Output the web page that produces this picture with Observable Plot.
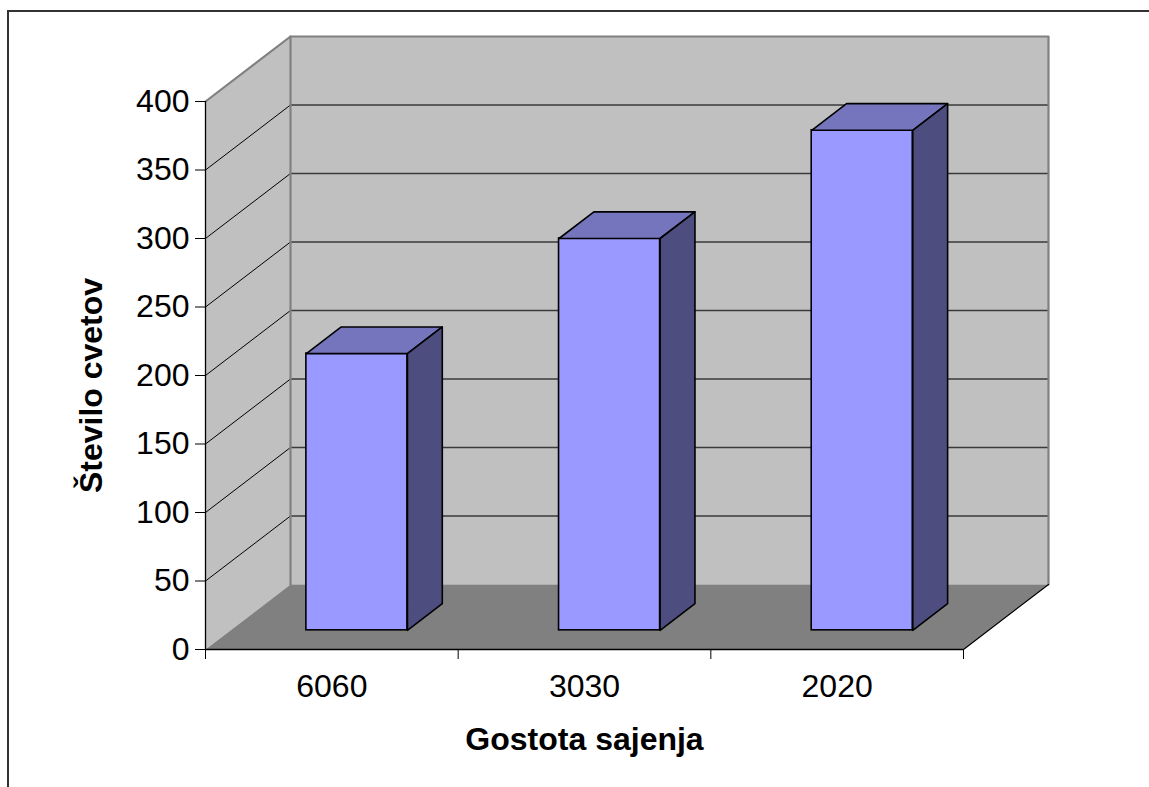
<!DOCTYPE html>
<html>
<head>
<meta charset="utf-8">
<script src="https://cdn.jsdelivr.net/npm/d3@7"></script>
<script src="https://cdn.jsdelivr.net/npm/@observablehq/plot@0.6"></script>
<style>
  html, body { margin: 0; padding: 0; background: #fff; overflow: hidden; }
  #wrap { position: relative; width: 1149px; height: 787px; }
  #border { position: absolute; left: 7px; top: 10px; right: -10px; bottom: -10px;
            border-top: 2px solid #333; border-left: 2px solid #333; }
  #chart { position: absolute; left: 0; top: 0; }
</style>
</head>
<body>
<div id="wrap"><div id="border"></div><div id="chart"></div></div>
<script>
// Planting density categories and flower counts
const categories = ["6060", "3030", "2020"];
const values = [202, 286, 365];
const yTicks = [0, 50, 100, 150, 200, 250, 300, 350, 400];

const W = 1149, H = 787;
const mL = 205, mR = 186, mT = 101, mB = 138;
const xDomain = [0, categories.length];
const yDomain = [0, 400];

// Oblique 3D projection: depth d in [0,1] shifts a point right and up (in pixels)
const depthX = 85, depthY = 65;
const kx = (xDomain[1] - xDomain[0]) / (W - mL - mR);
const ky = (yDomain[1] - yDomain[0]) / (H - mT - mB);
const P = (x, v, d) => ({x: x + d * depthX * kx, y: v + d * depthY * ky});
const path = (id, pts, close = false) =>
  (close ? [...pts, pts[0]] : pts).map(p => ({...p, id}));

const X0 = xDomain[0], X1 = xDomain[1], Y0 = yDomain[0], Y1 = yDomain[1];

// Walls and floor
const backWall = path("back", [P(X0, Y0, 1), P(X1, Y0, 1), P(X1, Y1, 1), P(X0, Y1, 1)], true);
const leftWall = path("left", [P(X0, Y0, 0), P(X0, Y0, 1), P(X0, Y1, 1), P(X0, Y1, 0)], true);
const floor = path("floor", [P(X0, Y0, 0), P(X1, Y0, 0), P(X1, Y0, 1), P(X0, Y0, 1)], true);

const inner = yTicks.filter(t => t > Y0 && t < Y1);
const backGrid = inner.flatMap(t => path(t, [P(X0, t, 1), P(X1, t, 1)]));
const sideGrid = inner.flatMap(t => path(t, [P(X0, t, 0), P(X0, t, 1)]));
const wallEdges = [
  ...path("top", [P(X0, Y1, 0), P(X0, Y1, 1), P(X1, Y1, 1), P(X1, Y0, 1)]),
  ...path("corner", [P(X0, Y1, 1), P(X0, Y0, 1)])
];
const floorEdge = path("fr", [P(X1, Y0, 0), P(X1, Y0, 1)]);

// Bars: 40% of the category width, centred in depth
const bw0 = 0.3, bw1 = 0.7, d0 = 0.295, d1 = 0.705;
const bars = categories.map((c, i) => ({c, i, value: values[i]}));
const topFaces = bars.flatMap(b => path(b.c, [
  P(b.i + bw0, b.value, d0), P(b.i + bw1, b.value, d0),
  P(b.i + bw1, b.value, d1), P(b.i + bw0, b.value, d1)], true));
const sideFaces = bars.flatMap(b => path(b.c, [
  P(b.i + bw1, 0, d0), P(b.i + bw1, 0, d1),
  P(b.i + bw1, b.value, d1), P(b.i + bw1, b.value, d0)], true));

const font = "'Liberation Sans', Arial, Helvetica, sans-serif";
const fs = 32;

const chart = Plot.plot({
  width: W, height: H,
  marginLeft: mL, marginRight: mR, marginTop: mT, marginBottom: mB,
  x: {type: "linear", domain: xDomain},
  y: {type: "linear", domain: yDomain},
  style: {fontFamily: font, background: "transparent", color: "black", overflow: "visible"},
  marks: [
    Plot.line(backWall, {x: "x", y: "y", z: "id", fill: "#c0c0c0", stroke: "none"}),
    Plot.line(leftWall, {x: "x", y: "y", z: "id", fill: "#c0c0c0", stroke: "none"}),
    Plot.line(floor, {x: "x", y: "y", z: "id", fill: "#808080", stroke: "none"}),
    Plot.line(backGrid, {x: "x", y: "y", z: "id", stroke: "#3a3a3a", strokeWidth: 1.4}),
    Plot.line(sideGrid, {x: "x", y: "y", z: "id", stroke: "#000", strokeWidth: 1}),
    Plot.line(wallEdges, {x: "x", y: "y", z: "id", stroke: "#808080", strokeWidth: 2.2}),
    Plot.line(floorEdge, {x: "x", y: "y", z: "id", stroke: "#000", strokeWidth: 1.2}),
    // axes
    Plot.ruleX([X0], {y1: Y0, y2: Y1, stroke: "#000", strokeWidth: 1.3}),
    Plot.ruleY([Y0], {x1: X0, x2: X1, stroke: "#000", strokeWidth: 1.3}),
    Plot.axisY({ticks: yTicks, tickSize: 10, tickPadding: 6, fontSize: fs, label: null,
      tickFormat: d => String(d)}),
    Plot.axisX({ticks: d3.range(X0, X1 + 1), tickSize: 10, tickFormat: () => "", label: null}),
    Plot.text(bars, {x: d => d.i + 0.5, y: 0, text: "c", dy: 37, fontSize: fs,
      lineAnchor: "middle", textAnchor: "middle", fill: "#000"}),
    // 3D columns
    Plot.rect(bars, {x1: d => d.i + bw0, x2: d => d.i + bw1, y1: 0, y2: "value",
      dx: d0 * depthX, dy: -d0 * depthY, fill: "#9999ff", stroke: "#000", strokeWidth: 1.6}),
    Plot.line(topFaces, {x: "x", y: "y", z: "id", fill: "#7575bd", stroke: "#000",
      strokeWidth: 1.6, strokeLinejoin: "round"}),
    Plot.line(sideFaces, {x: "x", y: "y", z: "id", fill: "#4d4d80", stroke: "#000",
      strokeWidth: 1.6, strokeLinejoin: "round"}),
    // axis titles
    Plot.text(["Gostota sajenja"], {frameAnchor: "bottom", dy: 90, fontSize: fs,
      lineAnchor: "middle", textAnchor: "middle", fontWeight: "bold", fill: "#000"}),
    Plot.text(["Število cvetov"], {frameAnchor: "left", rotate: -90, dx: -114, dy: 10,
      fontSize: fs, lineAnchor: "middle", textAnchor: "middle", fontWeight: "bold", fill: "#000"})
  ]
});
document.getElementById("chart").appendChild(chart);
</script>
</body>
</html>
